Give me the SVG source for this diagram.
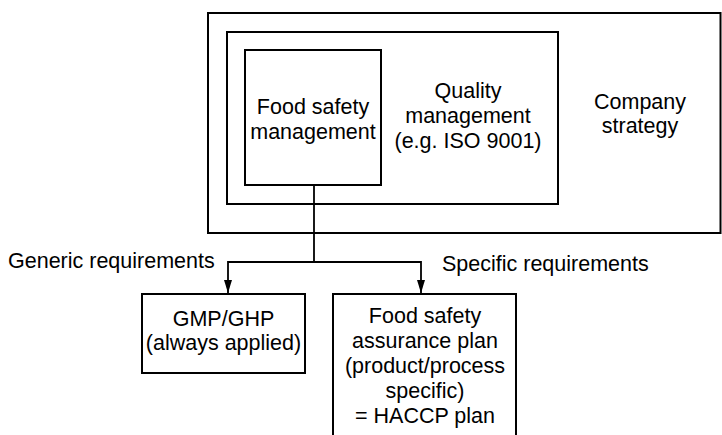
<svg xmlns="http://www.w3.org/2000/svg" width="722" height="435" viewBox="0 0 722 435">
<style>
.box{fill:none;stroke:#000;stroke-width:2}
.ln{fill:none;stroke:#000;stroke-width:1.8}
text{font-family:"Liberation Sans",Arial,sans-serif;font-size:21.5px;fill:#000}
.c{text-anchor:middle}
</style>
<defs>
<marker id="ah" markerWidth="14" markerHeight="8" refX="13" refY="4" orient="auto" markerUnits="userSpaceOnUse" viewBox="0 0 14 8">
<path d="M0,0 L13,4 L0,8 Z" fill="#000"/>
</marker>
</defs>
<rect width="722" height="435" fill="#fff"/>
<g id="company">
<rect class="box" x="208" y="13" width="512.5" height="220"/>
<text class="c" x="640" y="109">Company</text>
<text class="c" x="640" y="133">strategy</text>
</g>
<g id="quality">
<rect class="box" x="227" y="32" width="331" height="172"/>
<text class="c" x="468" y="98">Quality</text>
<text class="c" x="468" y="123">management</text>
<text class="c" x="468" y="148">(e.g. ISO 9001)</text>
</g>
<g id="fsm">
<rect class="box" x="245" y="50" width="136" height="135"/>
<text class="c" x="313" y="114">Food safety</text>
<text class="c" x="313" y="139">management</text>
</g>
<g id="gmp">
<rect class="box" x="142" y="294" width="163" height="79"/>
<text class="c" x="223.5" y="326">GMP/GHP</text>
<text class="c" x="223.5" y="350">(always applied)</text>
</g>
<g id="fsap">
<rect class="box" x="333" y="294" width="183" height="150"/>
<text class="c" x="425" y="323">Food safety</text>
<text class="c" x="425" y="348">assurance plan</text>
<text class="c" x="425" y="373">(product/process</text>
<text class="c" x="425" y="398">specific)</text>
<text class="c" x="425" y="423">= HACCP plan</text>
</g>
<g id="connectors">
<path class="ln" d="M314,185 V262"/>
<path class="ln" d="M314,262 H228 V293" marker-end="url(#ah)"/>
<path class="ln" d="M314,262 H421 V293" marker-end="url(#ah)"/>
<text x="8" y="268">Generic requirements</text>
<text x="442" y="271">Specific requirements</text>
</g>
</svg>
